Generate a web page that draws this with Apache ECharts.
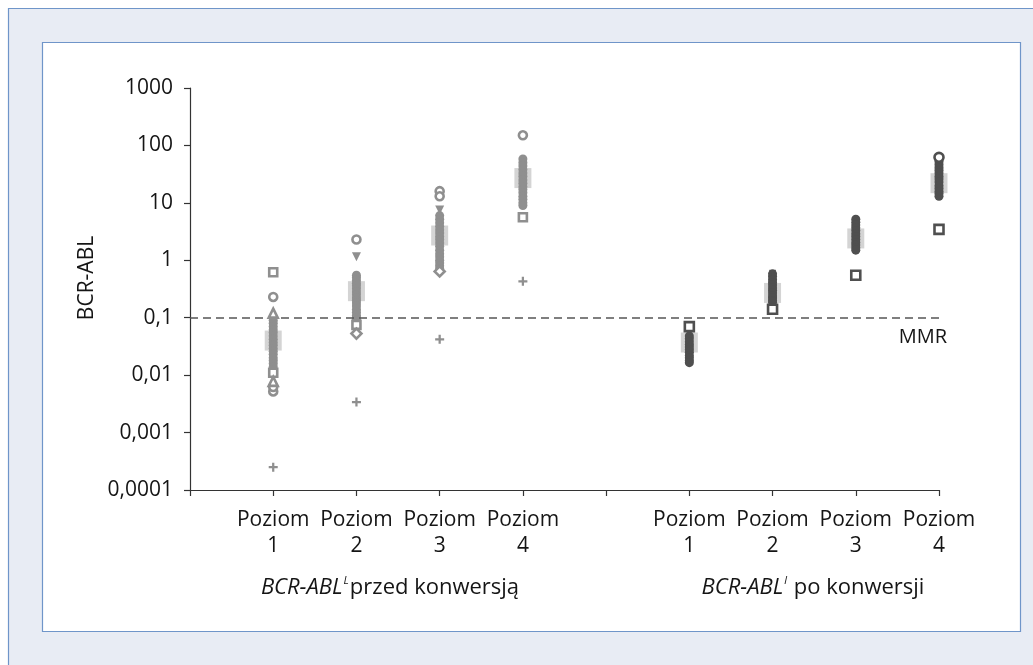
<!DOCTYPE html>
<html>
<head>
<meta charset="utf-8">
<script src="https://cdn.jsdelivr.net/npm/echarts@6/dist/echarts.min.js"></script>
<style>
html,body{margin:0;padding:0;background:#fff;}
#chart{width:1033px;height:665px;}
</style>
</head>
<body>
<div id="chart"></div>
<script>
// ---- Tick labels ----
const xTickValues = [1, 2, 3, 4, 6, 7, 8, 9];
const xTickLabels = ['Poziom\n1', 'Poziom\n2', 'Poziom\n3', 'Poziom\n4', 'Poziom\n1', 'Poziom\n2', 'Poziom\n3', 'Poziom\n4'];
const yTickLabels = ['0,0001', '0,001', '0,01', '0,1', '1', '10', '100', '1000'];
const groupLabels = ['przed konwersją', 'po konwersji'];
const mmrValue = 0.1;

// ---- Before conversion (positions 1-4) ----
const beforeDense = [
  [1,0.09],[1,0.08],[1,0.07],[1,0.062],[1,0.055],[1,0.048],[1,0.042],[1,0.037],[1,0.033],[1,0.029],
  [1,0.026],[1,0.023],[1,0.02],[1,0.018],[1,0.016],[1,0.014],[1,0.0125],[1,0.0105],
  [2,0.55],[2,0.5],[2,0.45],[2,0.4],[2,0.36],[2,0.32],[2,0.28],[2,0.25],[2,0.22],[2,0.2],
  [2,0.18],[2,0.16],[2,0.14],[2,0.125],[2,0.11],[2,0.1],[2,0.092],[2,0.085],
  [3,6],[3,5.2],[3,4.5],[3,3.9],[3,3.4],[3,3],[3,2.6],[3,2.3],[3,2],[3,1.75],[3,1.5],[3,1.3],
  [3,1.15],[3,1],[3,0.9],[3,0.8],[3,0.72],
  [4,58],[4,50],[4,44],[4,38],[4,33],[4,29],[4,25],[4,22],[4,19],[4,17],[4,15],[4,13],[4,11.5],[4,10],[4,9]
];
const beforeCircle = [[1,0.23],[1,0.0052],[1,0.0062],[2,2.3],[3,16],[3,13],[4,150]];
const beforeSquare = [[1,0.62],[1,0.011],[2,0.075],[4,5.6]];
const beforeTriangle = [[1,0.12],[1,0.0078]];
const beforeTriangleDown = [[2,1.15],[3,7.5]];
const beforeDiamond = [[2,0.053],[3,0.64]];
const beforePlus = [[1,0.00025],[2,0.0034],[3,0.042],[4,0.43]];
const beforeMean = [[1,0.04],[2,0.29],[3,2.7],[4,27]];

// ---- After conversion (positions 6-9) ----
const afterDense = [
  [6,0.048],[6,0.043],[6,0.038],[6,0.034],[6,0.031],[6,0.028],[6,0.025],[6,0.022],[6,0.02],[6,0.018],[6,0.0165],
  [7,0.58],[7,0.52],[7,0.46],[7,0.41],[7,0.37],[7,0.33],[7,0.3],[7,0.27],[7,0.24],[7,0.22],[7,0.2],[7,0.185],
  [8,5.2],[8,4.6],[8,4.1],[8,3.7],[8,3.3],[8,2.9],[8,2.6],[8,2.3],[8,2.05],[8,1.85],[8,1.65],[8,1.5],
  [9,52],[9,46],[9,41],[9,37],[9,33],[9,29],[9,26],[9,23],[9,20],[9,18],[9,16],[9,14.5],[9,13]
];
const afterCircle = [[9,62]];
const afterSquare = [[6,0.07],[7,0.14],[8,0.55],[9,3.45]];
const afterCross = [[7,0.6]];
const afterMean = [[6,0.037],[7,0.27],[8,2.4],[9,22]];

const BEFORE = '#8f8f8f';
const AFTER = '#4f4f4f';
const MEAN = '#d4d4d4';
const FONT = 'Open Sans';
const TXT = '#151515';
const plusPath = 'path://M3,0H5V3H8V5H5V8H3V5H0V3H3Z';

function hollow(name, data, symbol, color, size, rotate) {
  return {
    name: name, type: 'scatter', data: data, symbol: symbol, symbolSize: size,
    symbolRotate: rotate || 0, z: 5,
    itemStyle: {color: '#fff', borderColor: color, borderWidth: 2.6, opacity: 1}
  };
}
function filled(name, data, symbol, color, size) {
  return {
    name: name, type: 'scatter', data: data, symbol: symbol, symbolSize: size, z: 4,
    itemStyle: {color: color, opacity: 1}
  };
}
function groupRich() {
  return {
    i: {fontFamily: FONT, fontSize: 22, fontStyle: 'italic', fill: TXT, lineHeight: 26},
    s: {fontFamily: FONT, fontSize: 11, fontStyle: 'italic', fill: TXT, lineHeight: 26, verticalAlign: 'top', padding: [0, 1, 0, 1]},
    n: {fontFamily: FONT, fontSize: 22, fill: TXT, lineHeight: 26}
  };
}

const chart = echarts.init(document.getElementById('chart'), null, {renderer: 'canvas'});
const option = {
  animation: false,
  backgroundColor: '#fff',
  textStyle: {fontFamily: FONT},
  graphic: {elements: [
    {type: 'rect', z: -100, shape: {x: 8.5, y: 8.5, width: 1100, height: 700},
     style: {fill: '#e8ecf4', stroke: '#6f95c9', lineWidth: 1.2}},
    {type: 'rect', z: -99, shape: {x: 42.5, y: 42.5, width: 978, height: 589},
     style: {fill: '#ffffff', stroke: '#6f95c9', lineWidth: 1.2}},
    {type: 'text', z: 10, x: 87, y: 278, rotation: Math.PI / 2,
     style: {text: 'BCR-ABL', fill: TXT, font: '21px "Open Sans"', align: 'center', verticalAlign: 'middle'}},
    {type: 'text', z: 10, x: 390, y: 588,
     style: {text: '{i|BCR-ABL}{s|L}{n|' + groupLabels[0] + '}', align: 'center', verticalAlign: 'middle', rich: groupRich()}},
    {type: 'text', z: 10, x: 813, y: 588,
     style: {text: '{i|BCR-ABL}{s|l}{n| ' + groupLabels[1] + '}', align: 'center', verticalAlign: 'middle', rich: groupRich()}}
  ]},
  grid: {left: 190, right: 94, top: 88, bottom: 175, containLabel: false},
  xAxis: {
    type: 'value', min: 0, max: 9, interval: 1,
    splitLine: {show: false},
    axisLine: {lineStyle: {color: '#333', width: 1.2}},
    axisTick: {show: true, length: 6, lineStyle: {color: '#333', width: 1.2}},
    axisLabel: {
      margin: 17, fontFamily: FONT, fontSize: 21, color: TXT, lineHeight: 26,
      showMinLabel: true, showMaxLabel: true,
      formatter: function (v) {
        const i = xTickValues.indexOf(Math.round(v));
        return i >= 0 ? xTickLabels[i] : '';
      }
    }
  },
  yAxis: {
    type: 'log', logBase: 10, min: 0.0001, max: 1000,
    splitLine: {show: false},
    axisLine: {show: true, lineStyle: {color: '#333', width: 1.2}},
    axisTick: {show: true, length: 6, lineStyle: {color: '#333', width: 1.2}},
    axisLabel: {
      margin: 17, fontFamily: FONT, fontSize: 21, color: TXT,
      formatter: function (v) {
        const k = Math.round(Math.log10(v)) + 4;
        return yTickLabels[k] !== undefined ? yTickLabels[k] : '';
      }
    }
  },
  series: [
    {
      name: 'mean-before', type: 'scatter', data: beforeMean, symbol: 'rect', symbolSize: [17, 20], z: 3,
      itemStyle: {color: MEAN, opacity: 1}
    },
    {
      name: 'mean-after', type: 'scatter', data: afterMean, symbol: 'rect', symbolSize: [17, 20], z: 3,
      itemStyle: {color: MEAN, opacity: 1},
      markLine: {
        silent: true, symbol: ['none', 'none'],
        lineStyle: {color: '#555', type: [8, 5], width: 1.6},
        label: {show: true, position: 'insideEndBottom', formatter: 'MMR', fontFamily: FONT, fontSize: 20, color: TXT, distance: [-8, 10]},
        data: [{yAxis: mmrValue}]
      }
    },
    filled('before-dense', beforeDense, 'circle', BEFORE, 9),
    hollow('before-circle', beforeCircle, 'circle', BEFORE, 8),
    hollow('before-square', beforeSquare, 'rect', BEFORE, 8),
    hollow('before-triangle', beforeTriangle, 'triangle', BEFORE, 9),
    filled('before-triangle-down', beforeTriangleDown, 'path://M0,0L10,0L5,9Z', BEFORE, 9),
    hollow('before-diamond', beforeDiamond, 'diamond', BEFORE, 10),
    filled('before-plus', beforePlus, plusPath, BEFORE, 9),
    filled('after-dense', afterDense, 'circle', AFTER, 9),
    hollow('after-circle', afterCircle, 'circle', AFTER, 9),
    hollow('after-square', afterSquare, 'rect', AFTER, 9),
    filled('after-cross', afterCross, 'path://M1,0L4,3L7,0L8,1L5,4L8,7L7,8L4,5L1,8L0,7L3,4L0,1Z', AFTER, 7)
  ]
};
chart.setOption(option);
</script>
</body>
</html>
